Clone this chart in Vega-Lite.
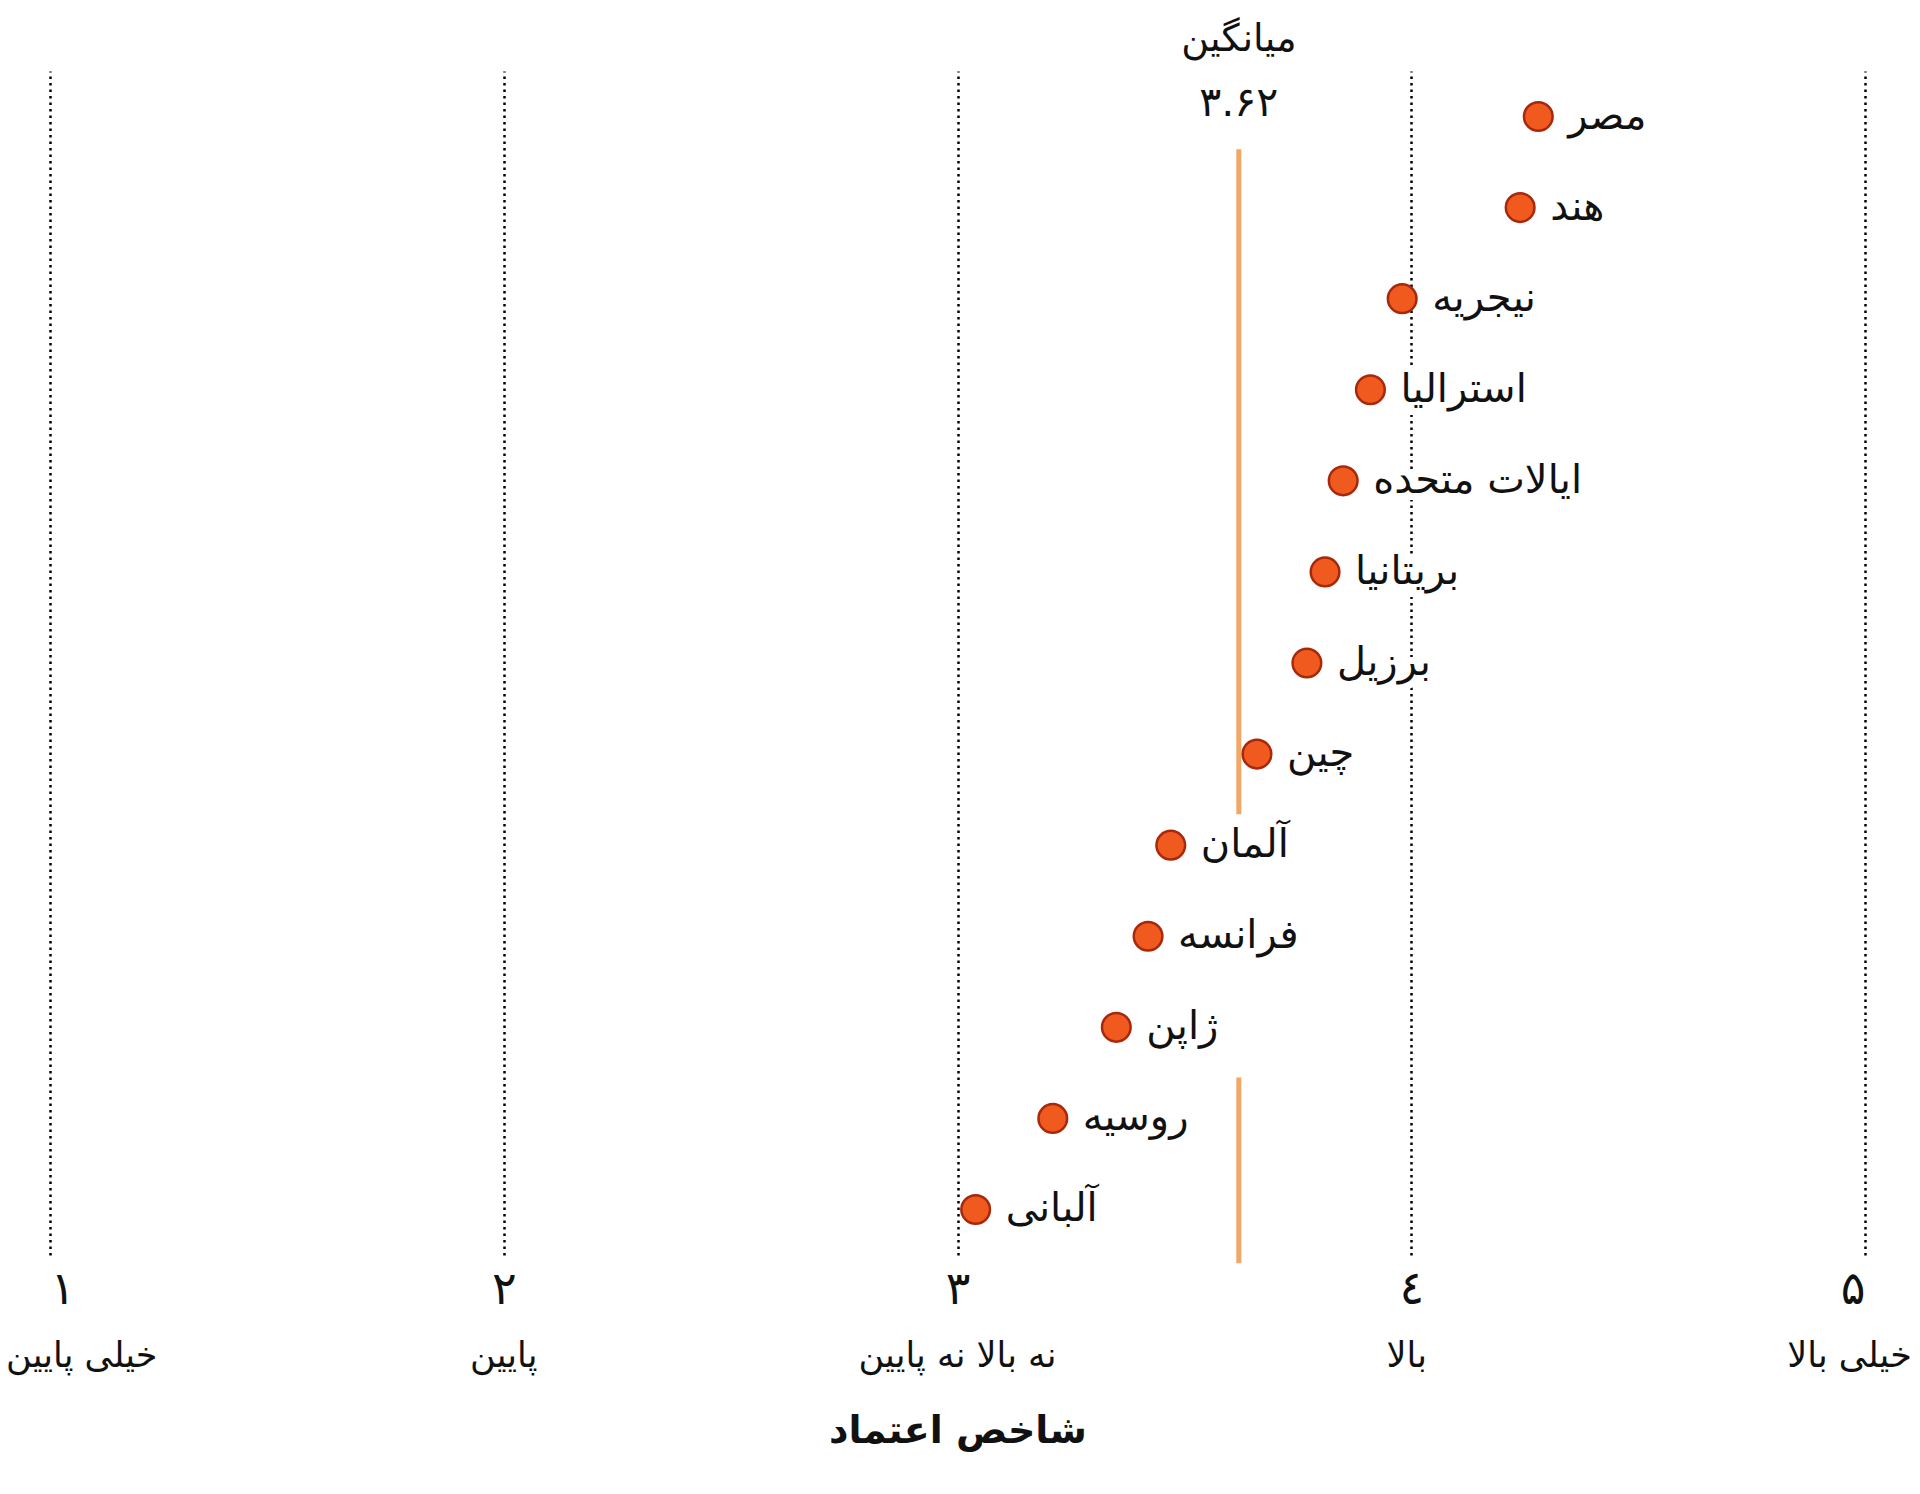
{
  "$schema": "https://vega.github.io/schema/vega-lite/v6.json",
  "width": 1815,
  "height": 1184,
  "autosize": "none",
  "padding": {"left": 50, "top": 71, "right": 55, "bottom": 239},
  "background": "white",
  "config": {"view": {"stroke": null}, "font": "DejaVu Sans"},
  "datasets": {
    "countries": [
      {"country": "مصر", "r": 1, "v": 4.28},
      {"country": "هند", "r": 2, "v": 4.24},
      {"country": "نیجریه", "r": 3, "v": 3.98},
      {"country": "استرالیا", "r": 4, "v": 3.91},
      {"country": "ایالات متحده", "r": 5, "v": 3.85},
      {"country": "بریتانیا", "r": 6, "v": 3.81},
      {"country": "برزیل", "r": 7, "v": 3.77},
      {"country": "چین", "r": 8, "v": 3.66},
      {"country": "آلمان", "r": 9, "v": 3.47},
      {"country": "فرانسه", "r": 10, "v": 3.42},
      {"country": "ژاپن", "r": 11, "v": 3.35},
      {"country": "روسیه", "r": 12, "v": 3.21},
      {"country": "آلبانی", "r": 13, "v": 3.04}
    ],
    "mean": [
      {"v": 3.62, "r": 1.36, "r2": 8.66},
      {"v": 3.62, "r": 11.55, "r2": 13.59}
    ],
    "meanLabel": [
      {"v": 3.62, "r": 0.16, "label": "میانگین", "size": 38},
      {"v": 3.62, "r": 0.86, "label": "۳.۶۲", "size": 41}
    ],
    "levels": [
      {"v": 1.07, "r": 14.61, "label": "خیلی پایین"},
      {"v": 2.0, "r": 14.61, "label": "پایین"},
      {"v": 3.0, "r": 14.61, "label": "نه بالا نه پایین"},
      {"v": 3.99, "r": 14.61, "label": "بالا"},
      {"v": 4.966, "r": 14.61, "label": "خیلی بالا"}
    ]
  },
  "layer": [
    {
      "data": {"name": "mean"},
      "mark": {"type": "rule", "color": "#f2a865", "strokeWidth": 5},
      "encoding": {
        "x": {
          "field": "v",
          "type": "quantitative",
          "scale": {"domain": [1, 5], "nice": false, "zero": false},
          "axis": {
            "title": "شاخص اعتماد",
            "values": [1, 2, 3, 4, 5],
            "labelExpr": "['۱','۲','۳','٤','۵'][datum.value - 1]",
            "labelFontSize": 46,
            "labelPadding": 12,
            "labelColor": "#111",
            "domain": false,
            "ticks": false,
            "grid": true,
            "gridDash": [2.5, 4],
            "gridColor": "#000",
            "gridWidth": 2.5,
            "titleFontSize": 38,
            "titleFontWeight": "bold",
            "titleColor": "#111",
            "titlePadding": 100
          }
        },
        "y": {
          "field": "r",
          "type": "quantitative",
          "scale": {"domain": [0.5, 13.5], "nice": false, "zero": false, "reverse": true},
          "axis": null
        },
        "y2": {"field": "r2"}
      }
    },
    {
      "data": {"name": "countries"},
      "mark": {"type": "text", "align": "left", "baseline": "middle", "dx": 30, "fontSize": 40, "color": "white", "stroke": "white", "strokeWidth": 14},
      "encoding": {
        "x": {"field": "v", "type": "quantitative"},
        "y": {"field": "r", "type": "quantitative"},
        "text": {"field": "country"}
      }
    },
    {
      "data": {"name": "countries"},
      "mark": {"type": "circle", "size": 820, "fill": "#f05a1e", "stroke": "#a8280c", "strokeWidth": 2.5, "opacity": 1},
      "encoding": {
        "x": {"field": "v", "type": "quantitative"},
        "y": {"field": "r", "type": "quantitative"}
      }
    },
    {
      "data": {"name": "countries"},
      "mark": {"type": "text", "align": "left", "baseline": "middle", "dx": 30, "fontSize": 40, "color": "#111"},
      "encoding": {
        "x": {"field": "v", "type": "quantitative"},
        "y": {"field": "r", "type": "quantitative"},
        "text": {"field": "country"}
      }
    },
    {
      "data": {"name": "meanLabel"},
      "mark": {"type": "text", "align": "center", "baseline": "middle", "color": "#111"},
      "encoding": {
        "x": {"field": "v", "type": "quantitative"},
        "y": {"field": "r", "type": "quantitative"},
        "text": {"field": "label"},
        "size": {"field": "size", "type": "quantitative", "scale": null}
      }
    },
    {
      "data": {"name": "levels"},
      "mark": {"type": "text", "align": "center", "baseline": "middle", "fontSize": 35, "color": "#111"},
      "encoding": {
        "x": {"field": "v", "type": "quantitative"},
        "y": {"field": "r", "type": "quantitative"},
        "text": {"field": "label"}
      }
    }
  ]
}
